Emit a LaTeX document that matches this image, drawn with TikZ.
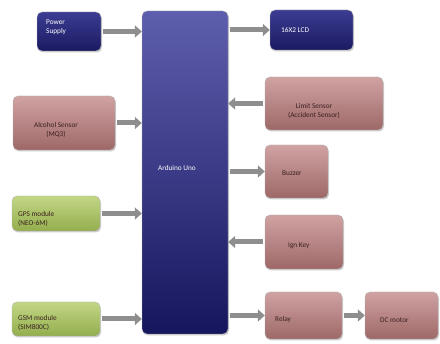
\documentclass[tikz,border=0pt]{standalone}
\usepackage{fontspec}
\setmainfont{Carlito}
\usetikzlibrary{arrows.meta,shadows}
\definecolor{bluetop}{HTML}{3C3C92}
\definecolor{bluebot}{HTML}{1A1A62}
\definecolor{ardtop}{HTML}{5E5EAE}
\definecolor{ardbot}{HTML}{16165E}
\definecolor{rosetop}{HTML}{D0A2A2}
\definecolor{rosebot}{HTML}{9E6868}
\definecolor{greentop}{HTML}{C2D684}
\definecolor{greenbot}{HTML}{93AE4E}
\definecolor{arrowgray}{HTML}{8E8E8E}
\definecolor{textdark}{HTML}{3A2020}
\tikzset{
  box/.style={rounded corners=5pt, draw=white!70!black, line width=0.4pt,
    drop shadow={opacity=0.4, shadow xshift=1pt, shadow yshift=-1.5pt}},
  bluebox/.style={box, top color=bluetop, bottom color=bluebot},
  ardbox/.style={box, top color=ardtop, bottom color=ardbot},
  rosebox/.style={box, top color=rosetop, bottom color=rosebot},
  greenbox/.style={box, top color=greentop, bottom color=greenbot},
  lbl/.style={font=\fontsize{7.3}{8.6}\selectfont, align=left, anchor=west, inner sep=0pt},
  wlbl/.style={lbl, text=white},
  dlbl/.style={lbl, text=textdark},
  blockarrow/.style={draw=arrowgray, line width=5pt,
    -{Triangle[width=12pt,length=7pt]}, shorten <=2pt}
}
\begin{document}
\begin{tikzpicture}[x=1pt,y=-1pt]
\useasboundingbox (0,0) rectangle (440,344);
% boxes
\node[bluebox, minimum width=64pt, minimum height=39pt] (ps) at (69,31.5) {};
\node[ardbox, minimum width=86pt, minimum height=323pt] (ard) at (185,172.5) {};
\node[bluebox, minimum width=83pt, minimum height=40pt] (lcd) at (311.5,30) {};
\node[rosebox, minimum width=118pt, minimum height=53pt] (lim) at (324,103.5) {};
\node[rosebox, minimum width=102pt, minimum height=54pt] (alc) at (64,123) {};
\node[rosebox, minimum width=63pt, minimum height=53pt] (buz) at (296.5,171.5) {};
\node[greenbox, minimum width=88pt, minimum height=35pt] (gps) at (56,213.5) {};
\node[rosebox, minimum width=78pt, minimum height=54pt] (ign) at (304,242) {};
\node[greenbox, minimum width=88pt, minimum height=34pt] (gsm) at (56,319) {};
\node[rosebox, minimum width=77pt, minimum height=47pt] (rel) at (303.5,315.5) {};
\node[rosebox, minimum width=73pt, minimum height=47pt] (dcm) at (401.5,315.5) {};
% labels
\node[wlbl] (tps) at (46,27) {Power\\Supply};
\node[wlbl, anchor=center] (tard) at (177,168) {Arduino Uno};
\node[wlbl] (tlcd) at (281,30) {16X2 LCD};
\node[dlbl, align=center, anchor=center] (tlim) at (314,111) {Limit Sensor\\(Accident Sensor)};
\node[dlbl, align=center, anchor=center] (talc) at (56,130) {Alcohol Sensor\\(MQ3)};
\node[dlbl] (tbuz) at (282,173) {Buzzer};
\node[dlbl] (tgps) at (18,219) {GPS module\\(NEO-6M)};
\node[dlbl] (tign) at (288,246) {Ign Key};
\node[dlbl] (tgsm) at (18,323) {GSM module\\(SIM800C)};
\node[dlbl] (trel) at (275,320) {Relay};
\node[dlbl] (tdcm) at (380,320) {DC motor};
% arrows
\draw[blockarrow] (ps.east) -- (ps.east -| ard.west);
\draw[blockarrow] (alc.east) -- (alc.east -| ard.west);
\draw[blockarrow] (gps.east) -- (gps.east -| ard.west);
\draw[blockarrow] (gsm.east) -- (gsm.east -| ard.west);
\draw[blockarrow] (lcd.west -| ard.east) -- (lcd.west);
\draw[blockarrow] (lim.west) -- (lim.west -| ard.east);
\draw[blockarrow] (buz.west -| ard.east) -- (buz.west);
\draw[blockarrow] (ign.west) -- (ign.west -| ard.east);
\draw[blockarrow] (rel.west -| ard.east) -- (rel.west);
\draw[blockarrow] (rel.east) -- (dcm.west);
\end{tikzpicture}
\end{document}
